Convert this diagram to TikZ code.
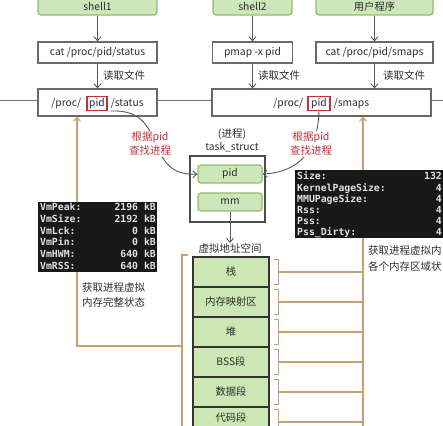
\documentclass[tikz,border=0pt]{standalone}
\usepackage{fontspec}
\setmainfont{Noto Sans CJK SC}
\newfontfamily\termfont{DejaVu Sans Mono}
\usetikzlibrary{arrows.meta}
\definecolor{gfill}{RGB}{205,231,186}
\definecolor{gdraw}{RGB}{140,190,110}
\definecolor{mfill}{RGB}{204,230,180}
\definecolor{tanc}{RGB}{200,160,112}
\definecolor{redc}{RGB}{196,48,58}
\definecolor{boxc}{RGB}{105,105,105}
\definecolor{txtc}{RGB}{45,45,45}
\definecolor{termbg}{RGB}{24,24,24}
\definecolor{termfg}{RGB}{225,225,225}
\begin{document}
\begin{tikzpicture}[x=1pt,y=-1pt,
  every node/.style={text=txtc, font=\fontsize{10.3}{13}\selectfont},
  gbox/.style={draw=gdraw, fill=gfill, line width=1.2pt, rounded corners=3pt, inner sep=0pt},
  wbox/.style={draw=boxc, fill=white, line width=1.2pt, inner sep=0pt},
  pidbox/.style={draw=redc, line width=1.1pt, inner sep=0pt, minimum width=20pt, minimum height=14pt, text height=7.5pt, text depth=2.5pt},
  ptxt/.style={inner sep=0pt, text height=7.5pt, text depth=2.5pt},
  ibox/.style={draw=gdraw, fill=gfill, line width=1.2pt, rounded corners=3pt, inner sep=0pt, minimum width=64pt, minimum height=18pt},
  memrow/.style={draw=black!80, fill=mfill, line width=1.3pt, inner sep=0pt, minimum width=76pt, minimum height=30pt},
  conn/.style={draw=black!65, line width=0.9pt, -{Straight Barb[length=4pt,width=7pt]}},
  tanl/.style={draw=tanc, line width=1.1pt},
  tanarr/.style={draw=tanc, line width=1.1pt, -{Straight Barb[length=4pt,width=7pt]}},
  dbl/.style={draw=black!55, line width=0.8pt, double=white, double distance=2.7pt},
  redlbl/.style={text=redc, fill=white, inner sep=1pt, align=center, font=\fontsize{10.5}{14}\selectfont},
  cjk/.style={font=\fontsize{10.5}{15.5}\selectfont, inner sep=0pt},
  term/.style={fill=termbg, draw=none, inner sep=0pt},
  tl/.style={text=termfg, inner sep=0pt, text height=7pt, text depth=2pt, font=\termfont\bfseries\fontsize{9.8}{11}\selectfont},
  toptxt/.style={inner sep=0pt, text height=7.5pt, text depth=0pt}
]
\useasboundingbox (0,0) rectangle (443,425);

% top green boxes
\node[gbox, minimum width=119pt, minimum height=24pt] (sh1) at (97.5,3) {};
\node[gbox, minimum width=79pt, minimum height=24pt] (sh2) at (252.5,3) {};
\node[gbox, minimum width=117pt, minimum height=24pt] (usr) at (374.5,3) {};
\node[toptxt] (sh1t) at (97.5,6.5) {shell1};
\node[toptxt] (sh2t) at (252.5,6.5) {shell2};
\node[toptxt] (usrt) at (374.5,6.5) {用户程序};

% command boxes
\node[wbox, minimum width=119pt, minimum height=21pt] (c1) at (97.5,52.5) {cat /proc/pid/status};
\node[wbox, minimum width=80pt, minimum height=21pt] (c2) at (252.5,52.5) {pmap -x pid};
\node[wbox, minimum width=117pt, minimum height=21pt] (c3) at (374.5,52.5) {cat /proc/pid/smaps};

% proc file boxes
\node[wbox, minimum width=119pt, minimum height=27pt] (st) at (97.5,102.5) {};
\node[wbox, minimum width=219pt, minimum height=27pt] (sm) at (321.5,102.5) {};

% double band lines
\coordinate (dl0) at (0,102.3);
\coordinate (dl1) at (443,102.3);
\draw[dbl] (dl0) -- (dl0 -| st.west);
\draw[dbl] (st.east |- dl0) -- (sm.west |- dl0);
\draw[dbl] (sm.east |- dl0) -- (dl1);

% pid boxes and text
\node[pidbox] (stpid) at (97,103.5) {pid};
\node[ptxt, anchor=east] (stpre) at ([xshift=-5pt]stpid.west) {/proc/};
\node[ptxt, anchor=west] (stsuf) at ([xshift=3pt]stpid.east) {/status};
\node[pidbox, minimum width=22pt] (smpid) at (319,103.5) {pid};
\node[ptxt, anchor=east] (smpre) at ([xshift=-4pt]smpid.west) {/proc/};
\node[ptxt, anchor=west] (smsuf) at ([xshift=3pt]smpid.east) {/smaps};

% top arrows
\draw[conn] (sh1) -- (c1);
\draw[conn] (sh2) -- (c2);
\draw[conn] (usr) -- (c3);
\draw[conn] (c1) -- (st);
\draw[conn] (c2) -- (c2.south |- sm.north);
\draw[conn] (c3) -- (c3.south |- sm.north);
\node[cjk, anchor=west] (r1) at (103,75) {读取文件};
\node[cjk, anchor=west] (r2) at (258,75) {读取文件};
\node[cjk, anchor=west] (r3) at (383,75) {读取文件};

% task_struct
\node[cjk] (tsl1) at (232,134) {(进程)};
\node[inner sep=0pt] (tsl2) at (232,147) {task\_struct};
\node[draw=black!70, line width=1.2pt, fill=white, minimum width=75pt, minimum height=66pt, inner sep=0pt] (ts) at (227.5,189) {};
\node[ibox] (tpid) at (230,174) {pid};
\node[ibox] (tmm) at (230,202) {mm};
\node[cjk] (vas) at (230,248) {虚拟地址空间};
\draw[conn] (tmm) -- (vas);

% red lookup curves
\draw[conn] ([xshift=3pt]stpid.south east) .. controls (170,108) and (142,177) .. (tpid.west);
\node[redlbl] (lk1) at (150,144) {根据pid\\查找进程};
\draw[conn] (smpid.south) .. controls (318,150) and (300,172) .. (tpid.east);
\node[redlbl] (lk2) at (311,144) {根据pid\\查找进程};

% memory column
\node[memrow] (m1) at (231,272) {栈};
\node[memrow] (m2) at (231,302) {内存映射区};
\node[memrow] (m3) at (231,332) {堆};
\node[memrow] (m4) at (231,362) {BSS段};
\node[memrow] (m5) at (231,392) {数据段};
\node[memrow] (m6) at (231,422) {};
\node[inner sep=0pt] (m6t) at (231,417.5) {代码段};

% left bracket and arrow
\coordinate (lbt) at (188,255);
\coordinate (lbtop) at (182,255);
\coordinate (lbbot) at (182,432);
\coordinate (lbm) at (182,346);
\coordinate (lc) at (77,346);
\draw[tanl] (lbt) -- (lbtop) -- (lbbot);
\draw[tanarr] (lbm) -- (lc) -- (lc |- st.south);

% right brackets and arrow
\coordinate (rc) at (363,432);
\draw[tanarr] (rc) -- (rc |- sm.south);
\foreach \n in {1,...,6}{
  \draw[tanl] ([xshift=4pt,yshift=-3pt]m\n.north east) -- ([xshift=9pt,yshift=-3pt]m\n.north east)
     -- ([xshift=9pt,yshift=3pt]m\n.south east) -- ([xshift=4pt,yshift=3pt]m\n.south east);
  \draw[tanl] ([xshift=9pt]m\n.east) -- (rc |- m\n.east);
}

% left terminal
\node[term, minimum width=119pt, minimum height=70pt] (tl) at (97.5,237) {};
\node[tl, anchor=west] (a1) at (40,208) {VmPeak:};
\node[tl, anchor=west] (a2) at (40,220) {VmSize:};
\node[tl, anchor=west] (a3) at (40,231.5) {VmLck:};
\node[tl, anchor=west] (a4) at (40,243) {VmPin:};
\node[tl, anchor=west] (a5) at (40,255) {VmHWM:};
\node[tl, anchor=west] (a6) at (40,266.5) {VmRSS:};
\node[tl, anchor=east] (b1) at (156,208) {2196 kB};
\node[tl, anchor=east] (b2) at (156,220) {2192 kB};
\node[tl, anchor=east] (b3) at (156,231.5) {0 kB};
\node[tl, anchor=east] (b4) at (156,243) {0 kB};
\node[tl, anchor=east] (b5) at (156,255) {640 kB};
\node[tl, anchor=east] (b6) at (156,266.5) {640 kB};
\node[cjk, anchor=west, align=left] (lt) at (82,295) {获取进程虚拟\\内存完整状态};

% right terminal
\node[term, minimum width=160pt, minimum height=68pt] (tr) at (375,204) {};
\node[tl, anchor=west] (c1l) at (297,177) {Size:};
\node[tl, anchor=west] (c2l) at (297,188.5) {KernelPageSize:};
\node[tl, anchor=west] (c3l) at (297,199.5) {MMUPageSize:};
\node[tl, anchor=west] (c4l) at (297,211) {Rss:};
\node[tl, anchor=west] (c5l) at (297,222) {Pss:};
\node[tl, anchor=west] (c6l) at (297,233) {Pss\_Dirty:};
\node[tl, anchor=east] (d1) at (442,177) {132};
\node[tl, anchor=east] (d2) at (442,188.5) {4};
\node[tl, anchor=east] (d3) at (442,199.5) {4};
\node[tl, anchor=east] (d4) at (442,211) {4};
\node[tl, anchor=east] (d5) at (442,222) {4};
\node[tl, anchor=east] (d6) at (442,233) {4};
\node[cjk, anchor=west, align=left] (rt) at (368,258.5) {获取进程虚拟内\\各个内存区域状};
\end{tikzpicture}
\end{document}
